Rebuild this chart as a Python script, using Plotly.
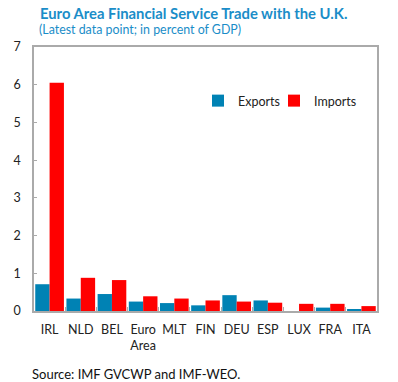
import plotly.graph_objects as go

categories = ["IRL", "NLD", "BEL", "Euro<br>Area", "MLT", "FIN", "DEU", "ESP", "LUX", "FRA", "ITA"]
exports = [0.71, 0.33, 0.45, 0.25, 0.21, 0.15, 0.42, 0.28, 0.0, 0.09, 0.05]
imports = [6.05, 0.88, 0.82, 0.39, 0.33, 0.28, 0.25, 0.22, 0.19, 0.19, 0.13]
y_ticks = [0, 1, 2, 3, 4, 5, 6, 7]

FONT = "Lato"
L, R, T, B = 34, 377, 47, 311
PW, PH = R - L, B - T

fig = go.Figure()
fig.add_bar(x=categories, y=exports, name="Exports", marker_color="#0082B4",
            marker_line_width=0, legend="legend")
fig.add_bar(x=categories, y=imports, name="Imports", marker_color="#FF0000",
            marker_line_width=0, legend="legend2")

leg_common = dict(y=(B - 101) / PH, xanchor="left", yanchor="middle",
                  font=dict(size=12.5, color="#222222"), bgcolor="rgba(0,0,0,0)",
                  itemwidth=30)

fig.update_layout(
    width=398, height=382,
    margin=dict(l=L, r=398 - R, t=T, b=382 - B, autoexpand=False),
    barmode="group", bargap=0.08, bargroupgap=0,
    plot_bgcolor="white", paper_bgcolor="white",
    font=dict(family=FONT, size=12, color="#222222"),
    showlegend=True,
    legend=dict(x=(198 - L) / PW, **leg_common),
    legend2=dict(x=(274 - L) / PW, **leg_common),
)
fig.add_annotation(text="<b>Euro Area Financial Service Trade with the U.K.</b>",
                   xref="paper", yref="paper", x=(38 - L) / PW, y=1 + (T - 13) / PH,
                   xanchor="left", yanchor="middle", showarrow=False,
                   font=dict(family=FONT, size=14.8, color="#1A8DC8"))
fig.add_annotation(text="(Latest data point; in percent of GDP)",
                   xref="paper", yref="paper", x=(37 - L) / PW, y=1 + (T - 29) / PH,
                   xanchor="left", yanchor="middle", showarrow=False,
                   font=dict(family=FONT, size=12.4, color="#1A8DC8"))
fig.add_annotation(text="Source: IMF GVCWP and IMF-WEO.",
                   xref="paper", yref="paper", x=(30 - L) / PW, y=-(374 - B) / PH,
                   xanchor="left", yanchor="middle", showarrow=False,
                   font=dict(family=FONT, size=13, color="#111111"))

fig.update_xaxes(showline=True, linecolor="#AAAAAA", linewidth=1.5, mirror=True,
                 ticks="inside", tickson="boundaries", ticklen=4, tickcolor="#AAAAAA",
                 tickangle=0, automargin=False, ticklabelstandoff=6,
                 tickfont=dict(size=12.5, color="#222222"), showgrid=False)
fig.update_yaxes(range=[0, 7], tickvals=y_ticks, showline=True, linecolor="#AAAAAA",
                 linewidth=1.5, mirror=True, ticks="inside", ticklen=3, tickcolor="#AAAAAA",
                 showgrid=False, zeroline=False, automargin=False,
                 tickfont=dict(size=12.5, color="#222222"), ticklabelstandoff=9)

fig.write_html("out.html", config={"displayModeBar": False},
               post_script="document.body.style.margin='0';")
